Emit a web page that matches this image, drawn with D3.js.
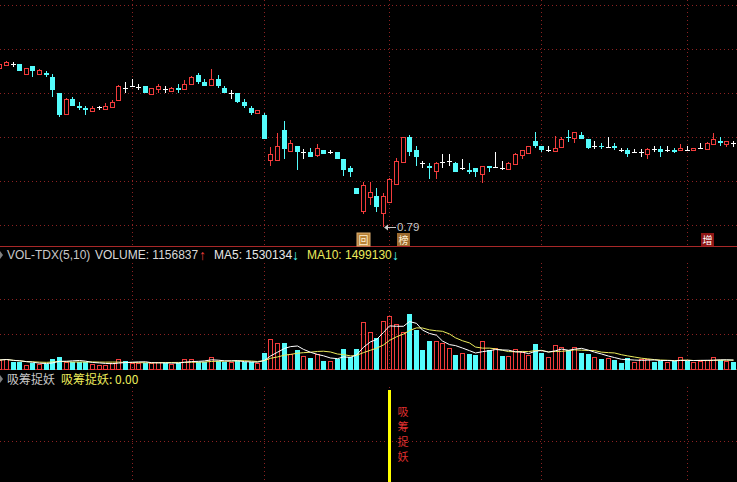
<!DOCTYPE html>
<html>
  <head>
    <meta charset="utf-8">
    <title>VOL-TDX / 吸筹捉妖</title>
    <!-- Load D3 from site -->
    <script src="https://d3js.org/d3.v7.min.js" charset="utf-8"></script>

    <style type="text/css">
      body { margin: 0; background: #000; overflow: hidden; }
      svg { display: block; }
      text { font-family: "Liberation Sans", Arial, sans-serif; }
      .cjk { font-family: "Noto Sans CJK SC", sans-serif; }
    </style>
  </head>

  <body>
    <script type="text/javascript">

      // Daily bars, oldest first (prices)
      var open  = [1.585,1.599,1.604,1.605,1.557,1.595,1.557,1.562,1.540,1.460,
                   1.357,1.430,1.397,1.387,1.372,1.392,1.382,1.392,1.427,1.487,
                   1.497,1.492,1.495,1.457,1.482,1.482,1.472,1.484,1.480,1.504,
                   1.552,1.515,1.500,1.530,1.487,1.462,1.460,1.417,1.387,1.359,
                   1.352,1.125,1.124,1.275,1.172,1.195,1.167,1.167,1.150,1.175,
                   1.165,1.165,1.130,1.085,0.985,0.870,0.942,0.947,0.862,0.917,
                   1.005,1.117,1.240,1.175,1.109,1.095,1.072,1.117,1.120,1.112,
                   1.084,1.075,1.084,1.054,1.095,1.092,1.084,1.080,1.105,1.150,
                   1.159,1.219,1.195,1.175,1.172,1.192,1.242,1.237,1.250,1.230,
                   1.197,1.195,1.192,1.195,1.174,1.174,1.167,1.167,1.154,1.179,
                   1.179,1.175,1.175,1.175,1.175,1.174,1.185,1.182,1.207,1.222,
                   1.207,1.209];
      var close = [1.605,1.615,1.604,1.572,1.585,1.570,1.574,1.552,1.475,1.350,
                   1.430,1.397,1.385,1.375,1.385,1.392,1.395,1.415,1.495,1.487,
                   1.497,1.492,1.462,1.484,1.495,1.482,1.487,1.475,1.505,1.542,
                   1.515,1.497,1.529,1.497,1.462,1.462,1.417,1.397,1.362,1.375,
                   1.230,1.155,1.194,1.179,1.212,1.167,1.167,1.142,1.184,1.155,
                   1.165,1.130,1.075,1.065,0.957,1.000,0.965,0.890,0.945,1.030,
                   1.120,1.240,1.167,1.142,1.109,1.085,1.112,1.117,1.120,1.067,
                   1.084,1.067,1.067,1.095,1.087,1.092,1.084,1.112,1.157,1.174,
                   1.194,1.195,1.175,1.175,1.184,1.230,1.234,1.265,1.232,1.187,
                   1.197,1.189,1.192,1.187,1.174,1.157,1.167,1.167,1.182,1.179,
                   1.167,1.175,1.167,1.185,1.175,1.185,1.185,1.212,1.230,1.212,
                   1.220,1.209];
      var high  = [1.610,1.620,1.615,1.607,1.587,1.597,1.580,1.570,1.554,1.462,
                   1.437,1.440,1.415,1.395,1.397,1.394,1.409,1.425,1.500,1.514,
                   1.530,1.507,1.497,1.486,1.505,1.495,1.490,1.505,1.525,1.547,
                   1.560,1.529,1.580,1.552,1.495,1.475,1.462,1.429,1.395,1.377,
                   1.359,1.192,1.262,1.320,1.225,1.197,1.179,1.187,1.205,1.177,
                   1.175,1.167,1.132,1.095,0.987,1.017,1.014,0.985,0.959,1.034,
                   1.134,1.242,1.250,1.195,1.120,1.109,1.114,1.155,1.155,1.114,
                   1.129,1.112,1.086,1.097,1.097,1.165,1.120,1.114,1.159,1.176,
                   1.196,1.265,1.197,1.195,1.245,1.242,1.275,1.267,1.265,1.232,
                   1.219,1.209,1.242,1.210,1.185,1.185,1.179,1.179,1.184,1.195,
                   1.195,1.195,1.185,1.205,1.195,1.187,1.210,1.214,1.262,1.242,
                   1.222,1.222];
      var low   = [1.580,1.595,1.590,1.570,1.555,1.542,1.552,1.542,1.442,1.342,
                   1.355,1.395,1.375,1.352,1.370,1.375,1.375,1.390,1.425,1.462,
                   1.495,1.475,1.460,1.455,1.462,1.462,1.470,1.462,1.478,1.502,
                   1.507,1.495,1.498,1.487,1.460,1.430,1.409,1.387,1.352,1.357,
                   1.228,1.095,1.120,1.132,1.170,1.075,1.129,1.140,1.142,1.153,
                   1.154,1.128,1.045,1.042,0.955,0.854,0.900,0.867,0.790,0.915,
                   1.000,1.115,1.145,1.095,1.084,1.030,1.032,1.084,1.097,1.065,
                   1.075,1.055,1.042,1.012,1.067,1.090,1.075,1.078,1.103,1.132,
                   1.157,1.184,1.167,1.165,1.165,1.190,1.214,1.212,1.230,1.179,
                   1.179,1.179,1.190,1.175,1.165,1.142,1.159,1.142,1.132,1.165,
                   1.142,1.165,1.159,1.173,1.175,1.172,1.185,1.180,1.205,1.195,
                   1.189,1.189];

      // Volume per bar and whether the bar is drawn as an up (red) bar
      var volume = [1530000,1700000,1200000,1200000,710000,1090000,830000,920000,1700000,2030000,
                    1160000,1160000,1200000,1200000,920000,760000,760000,990000,1700000,1370000,
                    1040000,990000,1090000,990000,1200000,990000,870000,1090000,1700000,1700000,
                    1200000,1200000,2030000,1370000,1200000,1200000,1320000,1200000,1160000,990000,
                    2640000,5000000,4290000,4290000,2480000,3180000,2190000,1910000,2480000,1370000,
                    1370000,1650000,3350000,2080000,3350000,7760000,6110000,5210000,7970000,8750000,
                    7430000,6110000,9120000,6480000,3180000,4670000,4670000,4290000,3560000,2360000,
                    2640000,2520000,2360000,4670000,3180000,3560000,2190000,2190000,3300000,2900000,
                    2360000,4170000,2740000,2030000,4010000,3730000,3180000,3630000,2740000,2520000,
                    2080000,1650000,1910000,1530000,1090000,1820000,1250000,1700000,1700000,1250000,
                    1370000,1250000,1400000,2050000,1300000,1240000,1350000,1500000,2100000,1600000,
                    1300000,1156837];
      var volUp = [1,1,0,0,1,0,1,0,0,0, 1,0,0,0,1,1,1,1,1,0,
                   1,1,0,1,1,0,1,0,1,1, 0,0,1,0,0,1,0,0,0,1,
                   0,1,1,0,1,0,1,0,1,0, 1,0,0,0,0,1,1,0,1,1,
                   1,1,0,0,0,0,1,1,1,0, 1,0,0,1,0,1,0,1,1,1,
                   1,0,0,1,1,1,0,1,0,0, 1,0,1,0,0,0,1,1,1,0,
                   0,1,0,1,0,1,1,1,1,0, 1,0];

      // Price and volume grid values, month separators
      var priceGrid = [1.90, 1.68, 1.46, 1.24, 1.02, 0.80];
      var volGrid = [5900000, 11600000];
      var monthStarts = [20, 40, 59, 82, 104];

      // Flag boxes under the candles
      var flagDays  = [55, 61, 107];
      var flagTexts = ["回", "榜", "增"];

      // 吸筹捉妖 signal days
      var signalDays = [59];

      // Header readouts
      var headVolume = 1156837, headMA5 = 1530134, headMA10 = 1499130, headSignal = 0;

      var width = 737, height = 482;
      var RED = "#f23c3c", CYAN = "#54fcfc", GRID = "#8c2222", LINE = "#a82828";

      var svg = d3.select("body").append("svg")
          .attr("width", width)
          .attr("height", height)
          .style("background", "#000");

      var n = open.length;
      var x = d3.scaleBand().domain(d3.range(n)).range([-3.9, 736.4]);
      function px(i) { return Math.round(x(i) + x.bandwidth() / 2); }

      var yP = d3.scaleLinear().domain([0.79, 1.90]).range([227, 5]);
      var yV = d3.scaleLinear().domain([0, 17700000]).range([369.3, 262]);
      var yS = d3.scaleLinear().domain([0, 1]).range([482, 390]);

      // ---- grid ----
      var grid = svg.append("g").attr("stroke", GRID).attr("stroke-dasharray", "1,3")
          .attr("shape-rendering", "crispEdges");
      grid.selectAll("line.hp").data(priceGrid).enter().append("line")
          .attr("x1", 0).attr("x2", width)
          .attr("y1", d => Math.round(yP(d)) + 0.5).attr("y2", d => Math.round(yP(d)) + 0.5);
      grid.selectAll("line.hv").data(volGrid).enter().append("line")
          .attr("x1", 0).attr("x2", width)
          .attr("y1", d => Math.round(yV(d)) + 0.5).attr("y2", d => Math.round(yV(d)) + 0.5);
      grid.append("line").attr("x1", 0).attr("x2", width).attr("y1", 441.5).attr("y2", 441.5);
      [[0, 246], [263, 369], [387, 482]].forEach(function(r) {
        grid.selectAll(null).data(monthStarts).enter().append("line")
            .attr("x1", d => px(d) + 0.5).attr("x2", d => px(d) + 0.5)
            .attr("y1", r[0]).attr("y2", r[1]);
      });

      // panel borders
      svg.append("g").attr("stroke", LINE).attr("shape-rendering", "crispEdges")
        .selectAll("line").data([246.5, 369.5]).enter().append("line")
          .attr("x1", 0).attr("x2", width).attr("y1", d => d).attr("y2", d => d);

      // ---- candles ----
      var candles = svg.append("g").attr("shape-rendering", "crispEdges");
      d3.range(n).forEach(function(i) {
        var c = px(i), o = open[i], cl = close[i];
        var top = Math.round(yP(Math.max(o, cl))), bot = Math.round(yP(Math.min(o, cl)));
        var hi = Math.round(yP(high[i])), lo = Math.round(yP(low[i]));
        if (cl > o) {
          candles.append("line").attr("stroke", RED)
              .attr("x1", c + 0.5).attr("x2", c + 0.5).attr("y1", hi).attr("y2", top);
          candles.append("line").attr("stroke", RED)
              .attr("x1", c + 0.5).attr("x2", c + 0.5).attr("y1", bot).attr("y2", lo);
          candles.append("rect").attr("fill", "#000").attr("stroke", RED)
              .attr("x", c - 1.5).attr("y", top + 0.5)
              .attr("width", 4).attr("height", Math.max(1, bot - top));
        } else if (cl < o) {
          candles.append("line").attr("stroke", CYAN)
              .attr("x1", c + 0.5).attr("x2", c + 0.5).attr("y1", hi).attr("y2", lo);
          candles.append("rect").attr("fill", CYAN)
              .attr("x", c - 2).attr("y", top)
              .attr("width", 5).attr("height", Math.max(1, bot - top));
        } else {
          candles.append("line").attr("stroke", "#fff")
              .attr("x1", c + 0.5).attr("x2", c + 0.5).attr("y1", hi).attr("y2", Math.max(lo, top + 1));
          candles.append("line").attr("stroke", "#fff")
              .attr("x1", c - 2).attr("x2", c + 3).attr("y1", top + 0.5).attr("y2", top + 0.5);
        }
      });

      // flags
      var flags = svg.append("g");
      flagDays.forEach(function(d, k) {
        var fill = k === 2 ? "#8e1616" : (k === 0 ? "#b98236" : "#9c6a2e");
        flags.append("rect").attr("x", px(d) - 6).attr("y", 233)
            .attr("width", 13).attr("height", 13).attr("fill", fill)
            .attr("stroke", k === 0 ? "#e0b070" : "none");
        flags.append("text").attr("class", "cjk").attr("x", px(d) + 0.5).attr("y", 244)
            .attr("text-anchor", "middle").attr("font-size", 10)
            .attr("fill", k === 2 ? "#fff" : "#fff0d2").text(flagTexts[k]);
      });

      // lowest low marker
      var lowIdx = d3.minIndex(low);
      var ly = Math.round(yP(low[lowIdx])) + 0.5;
      svg.append("line").attr("stroke", "#c8c8c8")
          .attr("x1", px(lowIdx) + 2).attr("x2", px(lowIdx) + 13).attr("y1", ly).attr("y2", ly);
      svg.append("path").attr("fill", "#c8c8c8")
          .attr("d", "M" + (px(lowIdx) + 1) + "," + ly + "l4,-3v6z");
      svg.append("text").attr("x", px(lowIdx) + 14).attr("y", ly + 3.5)
          .attr("font-size", 11.5).attr("fill", "#c8c8c8")
          .text(d3.format(".2f")(low[lowIdx]));

      // ---- volume ----
      var bars = svg.append("g").attr("shape-rendering", "crispEdges");
      volume.forEach(function(v, i) {
        var c = px(i), t = Math.round(yV(v));
        if (volUp[i]) {
          bars.append("rect").attr("fill", "none").attr("stroke", RED)
              .attr("x", c - 1.5).attr("y", t + 0.5).attr("width", 4).attr("height", 369 - t);
        } else {
          bars.append("rect").attr("fill", CYAN)
              .attr("x", c - 2).attr("y", t).attr("width", 5).attr("height", 370 - t);
        }
      });

      function movingAvg(arr, k) {
        return arr.map(function(v, i) { return d3.mean(arr.slice(Math.max(0, i - k + 1), i + 1)); });
      }
      var ma5 = movingAvg(volume, 5), ma10 = movingAvg(volume, 10);
      var line = d3.line().x((d, i) => px(i) + 0.5).y(d => yV(d));
      svg.append("path").datum(ma10).attr("fill", "none").attr("stroke", "#ecec5c").attr("d", line);
      svg.append("path").datum(ma5).attr("fill", "none").attr("stroke", "#ffffff").attr("d", line);

      // volume header
      svg.append("path").attr("d", "M0,251l3,4l-3,4z").attr("fill", "#808080");
      var head = svg.append("g").attr("font-size", 12);
      head.append("text").attr("x", 7).attr("y", 259).attr("fill", "#c8c8c8").text("VOL-TDX(5,10)");
      head.append("text").attr("x", 95).attr("y", 259).attr("fill", "#d8d8d8").text("VOLUME: " + headVolume);
      head.append("text").attr("x", 199).attr("y", 260).attr("font-size", 14).attr("fill", RED).text("↑");
      head.append("text").attr("x", 214).attr("y", 259).attr("fill", "#e8e8e8").text("MA5: " + headMA5);
      head.append("text").attr("x", 292).attr("y", 260).attr("font-size", 14).attr("fill", CYAN).text("↓");
      head.append("text").attr("x", 307).attr("y", 259).attr("fill", "#ecec5c").text("MA10: " + headMA10);
      head.append("text").attr("x", 392).attr("y", 260).attr("font-size", 14).attr("fill", CYAN).text("↓");

      // ---- 吸筹捉妖 indicator ----
      svg.append("path").attr("d", "M0,375l3,4l-3,4z").attr("fill", "#808080");
      svg.append("text").attr("class", "cjk").attr("x", 7).attr("y", 384)
          .attr("font-size", 12).attr("fill", "#c8c8c8").text("吸筹捉妖");
      svg.append("text").attr("class", "cjk").attr("x", 61).attr("y", 384)
          .attr("font-size", 12).attr("fill", "#ecec5c")
          .text("吸筹捉妖: " + d3.format(".2f")(headSignal));

      var sig = svg.append("g");
      signalDays.forEach(function(d) {
        sig.append("rect").attr("fill", "#ffff00").attr("shape-rendering", "crispEdges")
            .attr("x", px(d) - 1).attr("y", yS(1)).attr("width", 3).attr("height", yS(0) - yS(1));
        "吸筹捉妖".split("").forEach(function(ch, k) {
          sig.append("text").attr("class", "cjk").attr("x", px(d) + 14).attr("y", 416 + k * 15)
              .attr("text-anchor", "middle").attr("font-size", 11).attr("fill", "#e03030").text(ch);
        });
      });

    </script>
  </body>

</html>
